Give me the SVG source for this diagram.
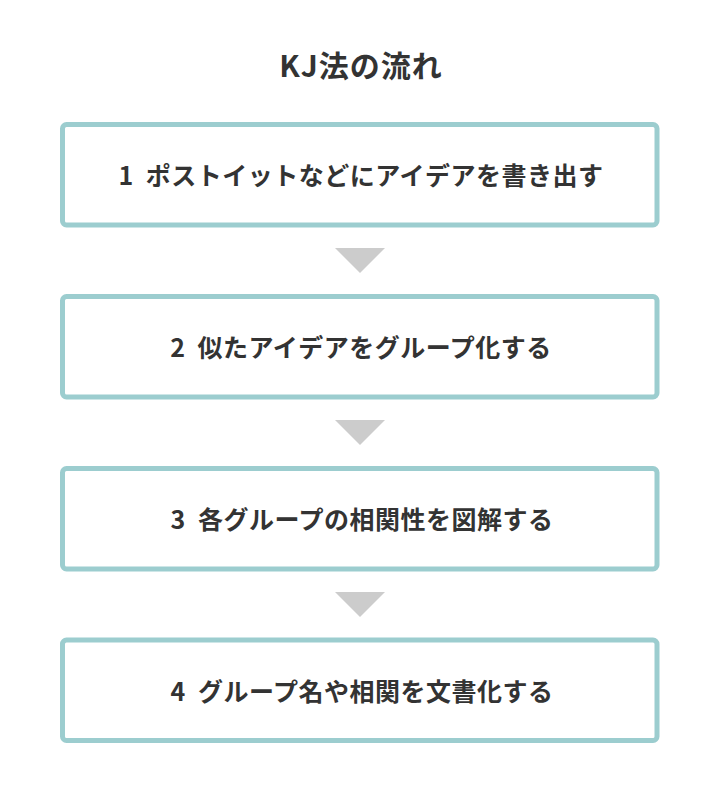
<svg xmlns="http://www.w3.org/2000/svg" width="720" height="794" viewBox="0 0 720 794">
<style>
.box{fill:#ffffff;stroke:#9ccdcf;stroke-width:5}
.lbl{font-family:"Noto Sans CJK JP","Noto Sans",sans-serif;font-weight:700;font-size:25px;letter-spacing:0.5px;fill:#333333;text-anchor:middle}
.title{font-family:"Noto Sans CJK JP","Noto Sans",sans-serif;font-weight:700;font-size:30px;letter-spacing:1px;fill:#333333;text-anchor:middle}
.arr{fill:#cccccc}
</style>
<rect width="720" height="794" fill="#ffffff"/>
<g id="title"><text class="title" x="361" y="77">KJ法の流れ</text></g>
<g id="step1">
<rect class="box" x="62.5" y="124.5" width="594.5" height="100.5" rx="4"/>
<text class="lbl" x="361" y="185">1<tspan dx="6"> ポストイットなどにアイデアを書き出す</tspan></text>
</g>
<g id="step2">
<rect class="box" x="62.5" y="296.5" width="594.5" height="100.5" rx="4"/>
<text class="lbl" x="361" y="357">2<tspan dx="6"> 似たアイデアをグループ化する</tspan></text>
</g>
<g id="step3">
<rect class="box" x="62.5" y="468.5" width="594.5" height="100.5" rx="4"/>
<text class="lbl" x="362" y="529">3<tspan dx="6"> 各グループの相関性を図解する</tspan></text>
</g>
<g id="step4">
<rect class="box" x="62.5" y="640" width="594.5" height="100.5" rx="4"/>
<text class="lbl" x="362" y="701">4<tspan dx="6"> グループ名や相関を文書化する</tspan></text>
</g>
<g id="connectors">
<polygon class="arr" points="335,248 385,248 360,273"/>
<polygon class="arr" points="335,420 385,420 360,445"/>
<polygon class="arr" points="335,592 385,592 360,617"/>
</g>
</svg>
